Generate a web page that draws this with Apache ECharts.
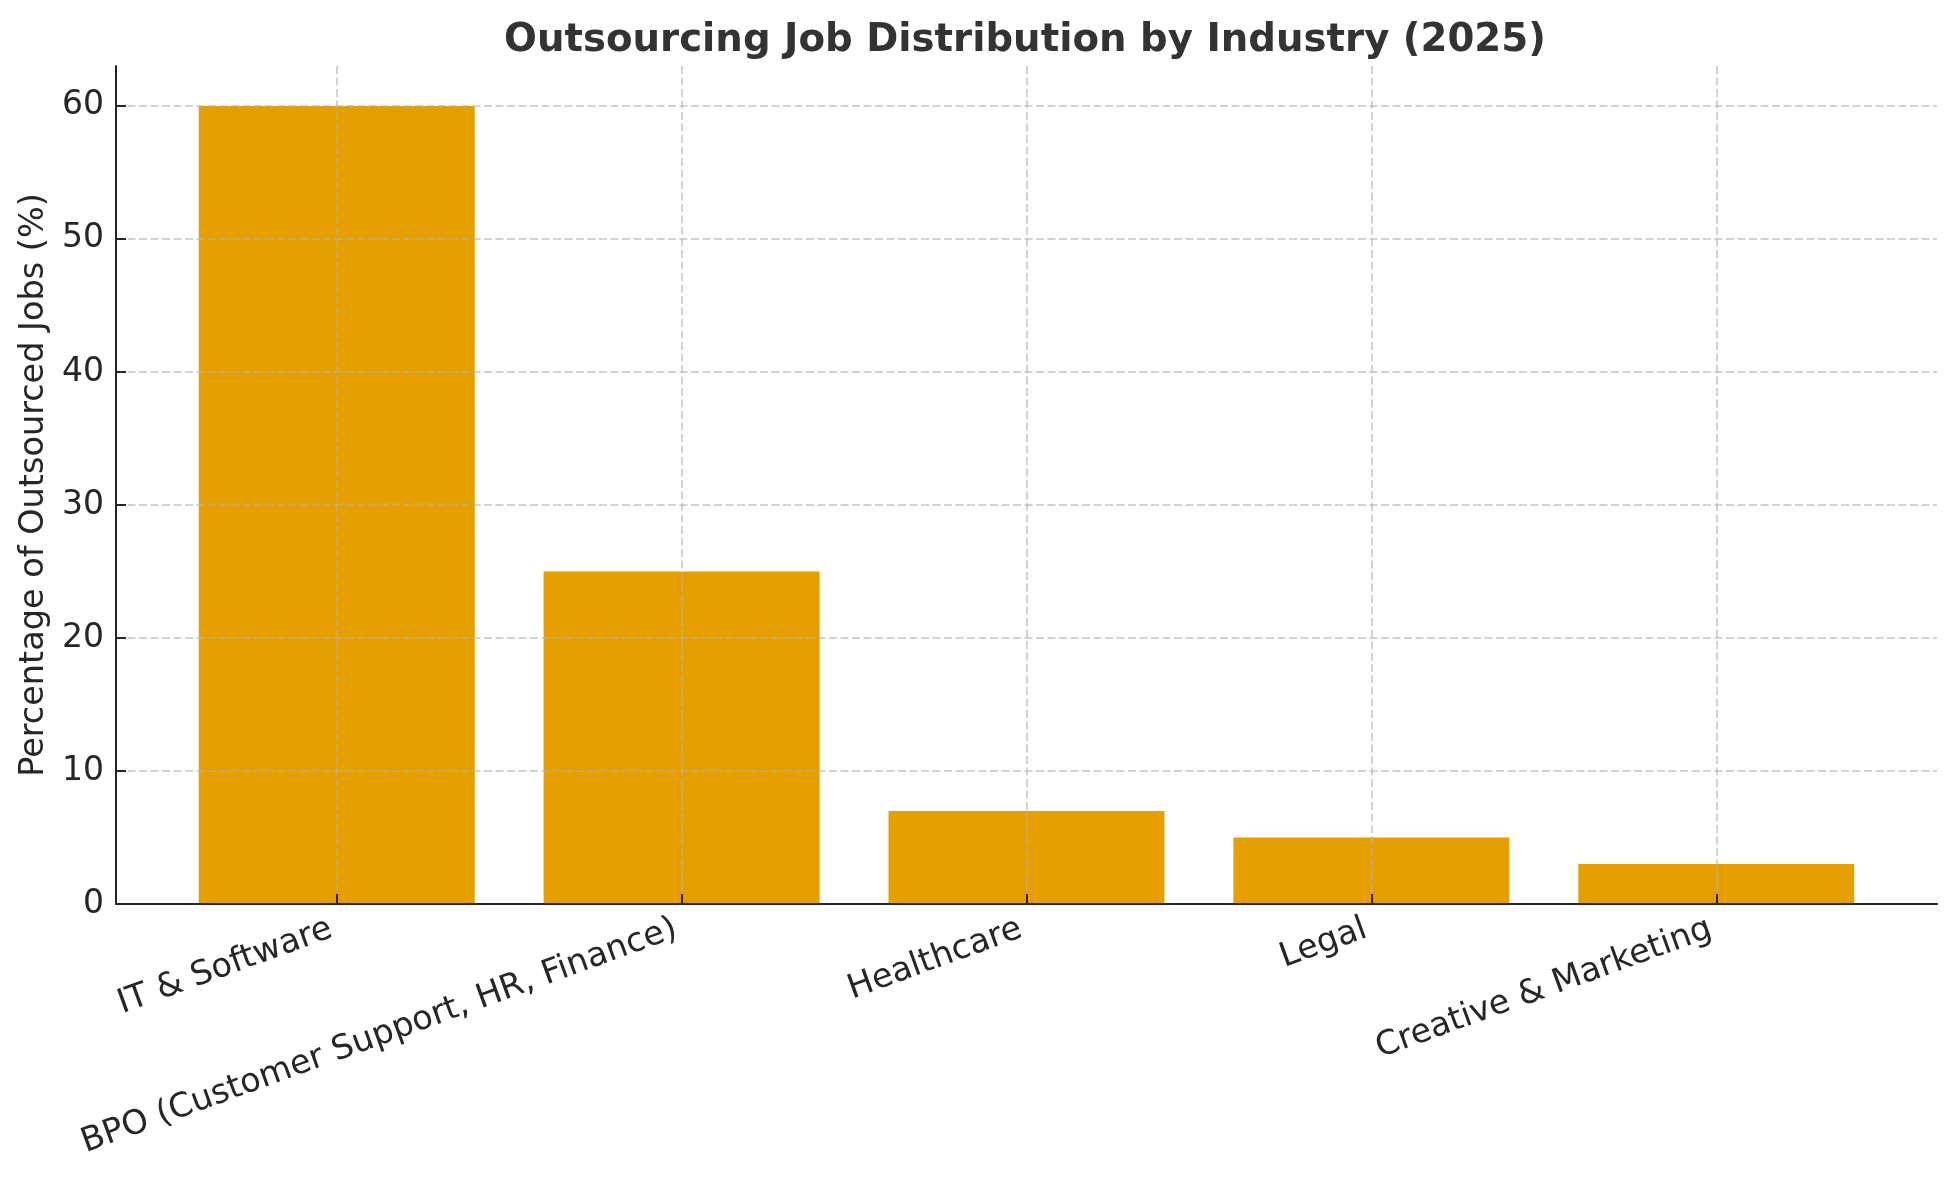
<!DOCTYPE html>
<html>
<head>
<meta charset="utf-8">
<title>Outsourcing Job Distribution by Industry (2025)</title>
<script src="https://cdn.jsdelivr.net/npm/echarts@6.0.0/dist/echarts.min.js"></script>
<style>
    html, body { margin: 0; padding: 0; background: #fff; }
    #main { width: 1955px; height: 1180px; }
</style>
</head>
<body>
<div id="main"></div>
<script>
// 数据
var categories = ['IT & Software', 'BPO (Customer Support, HR, Finance)', 'Healthcare', 'Legal', 'Creative & Marketing'];
var shares = [60, 25, 7, 5, 3];
var yTicks = [0, 10, 20, 30, 40, 50, 60];

var FONT = 'DejaVu Sans';
var INK = '#262626';
var GRID_LINE = 'rgba(176,176,176,0.75)';

var catPos = categories.map(function (c, i) { return i; });
var barData = categories.map(function (c, i) { return [i, shares[i]]; });

var chart = echarts.init(document.getElementById('main'));

var option = {
    backgroundColor: '#ffffff',
    animation: false,
    title: {
        text: 'Outsourcing Job Distribution by Industry (2025)',
        left: 504,
        top: 21,
        padding: 0,
        textStyle: {
            fontFamily: FONT,
            fontWeight: 'bold',
            fontSize: 38.7,
            color: '#333333'
        }
    },
    grid: {
        left: 116,
        right: 18,
        top: 66,
        bottom: 276
    },
    xAxis: {
        type: 'value',
        min: -0.64,
        max: 4.64,
        z: 4,
        axisLine: { show: true, onZero: false, lineStyle: { color: INK, width: 2 } },
        axisTick: {
            show: true,
            inside: true,
            length: 10,
            customValues: catPos,
            lineStyle: { color: INK, width: 2 }
        },
        axisLabel: {
            customValues: catPos,
            rotate: 20,
            margin: 22,
            padding: [0, 6, 0, 0],
            fontFamily: FONT,
            fontSize: 33.5,
            color: INK,
            formatter: function (v) { return categories[Math.round(v)]; }
        },
        splitLine: {
            show: true,
            lineStyle: { color: GRID_LINE, width: 1.5, type: [8, 3.5] }
        }
    },
    yAxis: {
        type: 'value',
        min: 0,
        max: 63,
        z: 3,
        name: 'Percentage of Outsourced Jobs (%)',
        nameLocation: 'middle',
        nameGap: 62,
        nameTextStyle: { fontFamily: FONT, fontSize: 33.5, color: INK },
        axisLine: { show: true, onZero: false, lineStyle: { color: INK, width: 2 } },
        axisTick: {
            show: true,
            inside: true,
            length: 10,
            customValues: yTicks,
            lineStyle: { color: INK, width: 2 }
        },
        axisLabel: {
            customValues: yTicks,
            margin: 12,
            fontFamily: FONT,
            fontSize: 33,
            color: INK
        },
        splitLine: {
            show: true,
            lineStyle: { color: GRID_LINE, width: 1.5, type: [8, 3.5] }
        }
    },
    series: [
        {
            type: 'bar',
            name: 'Share',
            data: barData,
            barWidth: 276,
            itemStyle: { color: '#E69F00' }
        }
    ]
};

chart.setOption(option);
</script>
</body>
</html>
